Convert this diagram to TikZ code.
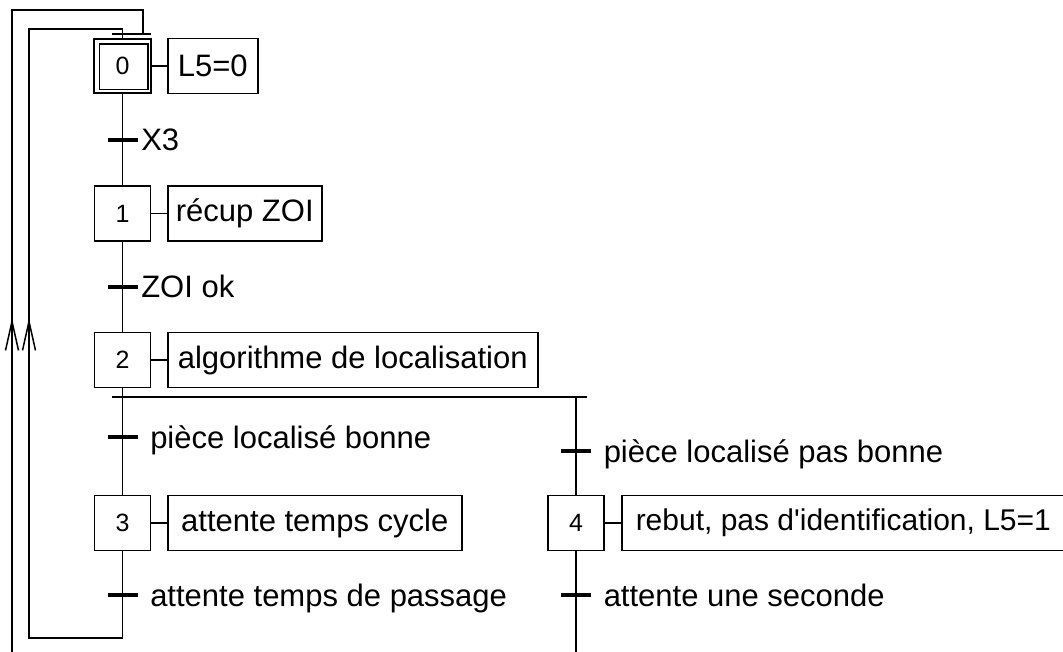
\documentclass[tikz,border=0pt]{standalone}
\usepackage{fontspec}
\setmainfont{Liberation Sans}[Ligatures=TeXOff]
\usetikzlibrary{arrows.meta}
\begin{document}
\begin{tikzpicture}[x=1pt,y=-1pt,line width=1.5pt,
  stepbox/.style={draw,minimum width=56pt,minimum height=55pt,inner sep=0pt,font=\fontsize{25}{29}\selectfont},
  actbox/.style={draw,minimum height=55pt,inner sep=0pt,anchor=west,font=\fontsize{31}{36}\selectfont},
  trbar/.style={line width=3.2pt},
  trlabel/.style={anchor=base west,inner sep=0pt,font=\fontsize{31}{36}\selectfont},
  uparrow/.style={-{Straight Barb[length=29pt,width=13pt,line width=1.5pt]}}]
\useasboundingbox (0,0) rectangle (1063,652);
\clip (0,0) rectangle (1063,652);

% steps and actions
\node[stepbox,minimum width=57pt,minimum height=54pt] (s0) at (122.5,66) {0};
\draw ([shift={(6,6)}]s0.north west) rectangle ([shift={(-4,-4)}]s0.south east);
\node[actbox,minimum width=90pt] (a0) at (167,66) {L5=0};
\node[stepbox] (s1) at (122.5,213.5) {1};
\node[actbox,minimum width=154pt] (a1) at (167,213.5) {récup ZOI};
\node[stepbox] (s2) at (122.5,360) {2};
\node[actbox,minimum width=370pt] (a2) at (167,360) {algorithme de localisation};
\node[stepbox] (s3) at (122.5,523) {3};
\node[actbox,minimum width=294pt] (a3) at (167,523) {attente temps cycle};
\node[stepbox] (s4) at (576,523) {4};
\node[actbox,inner xsep=14pt,font=\fontsize{30}{36}\selectfont] (a4) at (621,523) {rebut, pas d'identification, L5=1\hspace{12pt}};

\foreach \i in {0,...,4} {\draw (s\i.east) -- (a\i.west);}

% vertical links
\draw (s0.south) -- (s1.north);
\draw (s1.south) -- (s2.north);
\draw (s2.south) -- (s3.north);

% OR divergence
\coordinate (d1) at (112,397);
\coordinate (d2) at (587,397);
\coordinate (d4) at (576,397);
\draw (d1) -- (d2);
\draw (d4) -- (s4.north);
\coordinate (s4b) at (576,670);
\draw (s4.south) -- (s4b);

% transitions
\coordinate (t1) at (122.5,140);
\coordinate (t2) at (122.5,287);
\coordinate (t3) at (122.5,437);
\coordinate (t4) at (576,451);
\coordinate (t5) at (122.5,595);
\coordinate (t6) at (576,595);
\foreach \t in {t1,t2,t3,t4,t5,t6} {\draw[trbar] ([shift={(-15,0)}]\t) -- ([shift={(15,0)}]\t);}
\node[trlabel] (l1) at ([shift={(18,11)}]t1) {X3};
\node[trlabel] (l2) at ([shift={(18,11)}]t2) {ZOI ok};
\node[trlabel] (l3) at ([shift={(27,11)}]t3) {pièce localisé bonne};
\node[trlabel] (l4) at ([shift={(27,11)}]t4) {pièce localisé pas bonne};
\node[trlabel] (l5) at ([shift={(27,11)}]t5) {attente temps de passage};
\node[trlabel] (l6) at ([shift={(27,11)}]t6) {attente une seconde};

% OR convergence above step 0
\coordinate (j1) at (112,34);
\coordinate (j2) at (151,34);
\coordinate (j3) at (143,34);
\draw (j1) -- (j2);

% inner loop (from step 3)
\coordinate (il) at (29,638);
\coordinate (ia) at (29,318);
\coordinate (it) at (29,29);
\draw (s3.south) |- (il) -- (it) -| (s0.north);
\draw[uparrow] (il) -- (ia);

% outer loop (from step 4 branch)
\coordinate (ob) at (12,670);
\coordinate (oa) at (12,318);
\coordinate (ot) at (12,10);
\draw (ob) -- (ot) -| (j3);
\draw[uparrow] (ob) -- (oa);
\end{tikzpicture}
\end{document}
